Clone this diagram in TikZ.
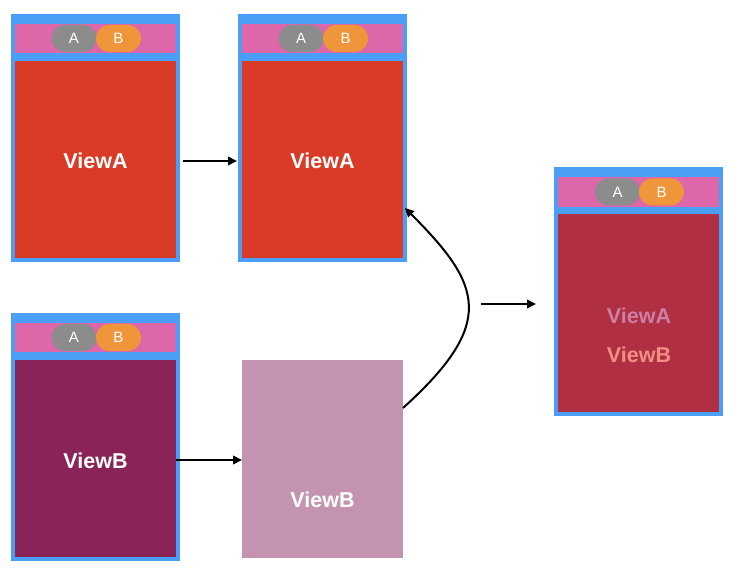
\documentclass[tikz,border=0pt]{standalone}
\usepackage{fontspec}
\setmainfont{Liberation Sans}
\usetikzlibrary{arrows.meta,calc}
\definecolor{frameblue}{HTML}{4A9EF5}
\definecolor{barpink}{HTML}{DD67A8}
\definecolor{pillgray}{HTML}{8C8C8C}
\definecolor{pillorange}{HTML}{F0963A}
\definecolor{scrred}{HTML}{DA3B26}
\definecolor{scrpurple}{HTML}{8A2358}
\definecolor{scrpale}{HTML}{C493B0}
\definecolor{scrmix}{HTML}{B12F42}
\definecolor{txtmauve}{HTML}{CC7FA2}
\definecolor{txtsalmon}{HTML}{F28E82}
\tikzset{
  box/.style={rectangle, inner sep=0pt, outer sep=0pt, draw=none},
  frame/.style={box, fill=frameblue, minimum width=169pt, minimum height=248pt},
  bar/.style={box, fill=barpink, minimum width=161pt, minimum height=29pt},
  screen/.style={box, minimum width=161pt, minimum height=197pt},
  pill/.style={rectangle, rounded corners=13.5pt, inner sep=0pt, minimum width=45pt, minimum height=27pt, text=white, font=\fontsize{15}{15}\selectfont},
  pillA/.style={pill, fill=pillgray},
  pillB/.style={pill, fill=pillorange},
  label/.style={inner sep=0pt, text=white, font=\fontsize{21.5}{21.5}\selectfont\bfseries},
  conn/.style={-{Triangle[length=9pt,width=8.5pt]}, line width=2pt, black},
}
\begin{document}
\begin{tikzpicture}[x=1pt,y=-1pt]
\useasboundingbox[fill=white] (0,0) rectangle (756,580);
% phone 1
\node[frame] (f1) at (95.5,138) {};
\node[bar] (b1) at (95.5,38.5) {};
\node[screen, fill=scrred] (s1) at (95.5,159.5) {};
\node[pillA] (a1) at (74,38.5) {A};
\node[pillB] (p1) at (118.5,38.5) {B};
\node[label] (t1) at (95.5,161) {ViewA};
% phone 2
\node[frame] (f2) at (322.5,138) {};
\node[bar] (b2) at (322.5,38.5) {};
\node[screen, fill=scrred] (s2) at (322.5,159.5) {};
\node[pillA] (a2) at (301,38.5) {A};
\node[pillB] (p2) at (345.5,38.5) {B};
\node[label] (t2) at (322.5,161) {ViewA};
% phone 3
\node[frame] (f3) at (95.5,437) {};
\node[bar] (b3) at (95.5,337.5) {};
\node[screen, fill=scrpurple] (s3) at (95.5,458.5) {};
\node[pillA] (a3) at (74,337.5) {A};
\node[pillB] (p3) at (118.5,337.5) {B};
\node[label] (t3) at (95.5,461) {ViewB};
% pale box
\node[box, fill=scrpale, minimum width=161pt, minimum height=198pt] (pale) at (322.5,459) {};
\node[label] (t4) at (322.5,500) {ViewB};
% right phone
\node[frame, minimum height=249pt] (f4) at (638.5,291.5) {};
\node[bar, minimum height=30pt] (b4) at (638.5,192) {};
\node[screen, fill=scrmix, minimum height=198pt] (s4) at (638.5,313) {};
\node[pillA] (a4) at (617.5,192) {A};
\node[pillB] (p4) at (661.5,192) {B};
\node[label, text=txtmauve] (t5) at (639,316) {ViewA};
\node[label, text=txtsalmon] (t6) at (639,355) {ViewB};
% connectors
\draw[conn] ([xshift=3pt]f1.east |- t1) -- ([xshift=-1pt]f2.west |- t1);
\draw[conn] (s3.east |- 0,460) -- (pale.west |- 0,460);
\coordinate (r1) at (481,304);
\coordinate (r2) at (536,304);
\draw[conn] (r1) -- (r2);
\draw[conn] ([yshift=51pt]pale.east) .. controls +(94,-85) and +(77,77) .. ([xshift=2pt,yshift=-48.5pt]s2.east);
\end{tikzpicture}
\end{document}
